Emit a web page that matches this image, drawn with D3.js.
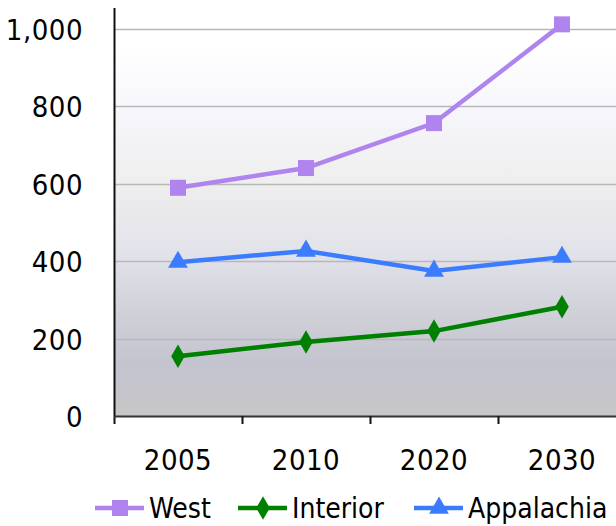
<!DOCTYPE html>
<html>
<head>
<meta charset="utf-8">
<script src="https://cdn.jsdelivr.net/npm/d3@7"></script>
<style>
  body { margin: 0; background: #fff; }
  svg text { font-family: "DejaVu Sans Condensed", "DejaVu Sans", sans-serif; font-stretch: condensed; fill: #000; }
</style>
</head>
<body>
<div id="chart"></div>
<script>
// Data
const years = ["2005", "2010", "2020", "2030"];
const west = [590, 641, 757, 1012];
const interior = [155, 192, 220, 283];
const appalachia = [398, 427, 375, 411];
const yTicks = [0, 200, 400, 600, 800, 1000];

const seriesList = [
  { name: "West", values: west, color: "#b084ee", symbol: d3.symbolSquare, size: 256 },
  { name: "Interior", values: interior, color: "#008000", symbol: d3.symbolDiamond, size: 160 },
  { name: "Appalachia", values: appalachia, color: "#3b7cff", symbol: d3.symbolTriangle, size: 170 }
];

const width = 616, height = 526;
const plot = { left: 114, right: 626, top: 8, bottom: 416 };

const svg = d3.select("#chart").append("svg")
  .attr("width", width)
  .attr("height", height);

const x = d3.scaleBand().domain(years).range([plot.left, plot.right]);
const y = d3.scaleLinear().domain([0, 1000]).range([416.3, 29]);

// Background gradient
const defs = svg.append("defs");
const grad = defs.append("linearGradient")
  .attr("id", "bg").attr("x1", 0).attr("y1", 0).attr("x2", 0).attr("y2", 1);
[[0, "#ffffff"], [0.1, "#ffffff"], [0.25, "#f6f6fc"], [0.42, "#efefef"], [0.6, "#e2e2ea"],
 [0.75, "#d0d0d8"], [0.87, "#c4c4d0"], [1, "#c6c6c6"]].forEach(function(s) {
  grad.append("stop").attr("offset", s[0]).attr("stop-color", s[1]);
});

svg.append("rect")
  .attr("x", plot.left).attr("y", plot.top)
  .attr("width", width - plot.left).attr("height", plot.bottom - plot.top)
  .attr("fill", "url(#bg)");

// Gridlines
svg.append("g").selectAll("line")
  .data(yTicks.filter(function(d) { return d > 0; }))
  .enter().append("line")
  .attr("x1", plot.left).attr("x2", width)
  .attr("y1", function(d) { return Math.round(y(d)) + 0.5; })
  .attr("y2", function(d) { return Math.round(y(d)) + 0.5; })
  .attr("stroke", "#b8b8b8").attr("stroke-width", 1.5);

// Y axis
const yAxis = svg.append("g")
  .attr("transform", `translate(${plot.left},0)`)
  .call(d3.axisLeft(y).tickValues(yTicks).tickSize(0).tickPadding(31).tickFormat(d3.format(",")));
yAxis.select(".domain").remove();
yAxis.selectAll("text").style("font-size", "29px").style("letter-spacing", "0.5px").attr("dy", "0.36em");
svg.append("line")
  .attr("x1", plot.left + 0.5).attr("x2", plot.left + 0.5)
  .attr("y1", plot.top).attr("y2", plot.bottom + 8)
  .attr("stroke", "#111").attr("stroke-width", 2);

// X axis
const xAxis = svg.append("g")
  .attr("transform", `translate(0,${plot.bottom})`)
  .call(d3.axisBottom(x).tickSize(0).tickPadding(33));
xAxis.select(".domain").remove();
xAxis.selectAll("text").style("font-size", "29px").style("letter-spacing", "0.5px");
svg.append("line")
  .attr("x1", plot.left).attr("x2", width)
  .attr("y1", plot.bottom + 0.5).attr("y2", plot.bottom + 0.5)
  .attr("stroke", "#333").attr("stroke-width", 2);
svg.append("g").selectAll("line")
  .data(years.slice(1))
  .enter().append("line")
  .attr("x1", function(d) { return x(d) + 0.5; })
  .attr("x2", function(d) { return x(d) + 0.5; })
  .attr("y1", plot.bottom).attr("y2", plot.bottom + 8)
  .attr("stroke", "#111").attr("stroke-width", 2);

// Lines and markers
const line = d3.line()
  .x(function(d, i) { return x(years[i]) + x.bandwidth() / 2; })
  .y(function(d) { return y(d); });

seriesList.forEach(function(s) {
  svg.append("path")
    .datum(s.values)
    .attr("d", line)
    .attr("fill", "none")
    .attr("stroke", s.color)
    .attr("stroke-width", 4.5);
  svg.append("g").selectAll("path")
    .data(s.values)
    .enter().append("path")
    .attr("d", d3.symbol().type(s.symbol).size(s.size))
    .attr("transform", function(d, i) {
      return `translate(${x(years[i]) + x.bandwidth() / 2},${y(d)})`;
    })
    .attr("fill", s.color);
});

// Legend
const legendX = [95, 238, 414];
const legend = svg.append("g").selectAll("g")
  .data(seriesList)
  .enter().append("g")
  .attr("transform", function(d, i) { return `translate(${legendX[i]},508)`; });
legend.append("line")
  .attr("x1", 0).attr("x2", 49).attr("y1", 0).attr("y2", 0)
  .attr("stroke", function(d) { return d.color; }).attr("stroke-width", 4.5);
legend.append("path")
  .attr("d", function(d) { return d3.symbol().type(d.symbol).size(d.size)(); })
  .attr("transform", "translate(25,0)")
  .attr("fill", function(d) { return d.color; });
legend.append("text")
  .attr("x", 54).attr("y", 10)
  .style("font-size", "28px")
  .text(function(d) { return d.name; });
</script>
</body>
</html>
